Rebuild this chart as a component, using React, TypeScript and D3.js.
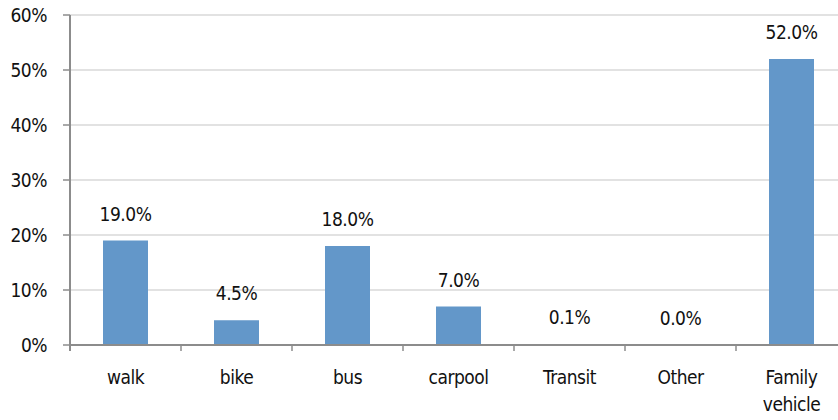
import React from "react";
import * as d3 from "d3";

const categories = ["walk", "bike", "bus", "carpool", "Transit", "Other", "Family vehicle"];
const values = [19.0, 4.5, 18.0, 7.0, 0.1, 0.0, 52.0];
const yTicks = [0, 10, 20, 30, 40, 50, 60];

const W = 838;
const H = 420;
const FONT = "'DejaVu Sans Condensed', 'DejaVu Sans', sans-serif";
const textStyle: React.CSSProperties = { fontStretch: "condensed" };

export default function App() {
  const left = 70;
  const right = 847;
  const top = 15;
  const bottom = 345;
  const band = d3.scaleBand<string>().domain(categories).range([left, right]);
  const y = d3.scaleLinear().domain([0, 60]).range([bottom, top]);
  const bw = 45;
  const fs = 19;

  return (
    <svg width={W} height={H} style={{ position: "absolute", left: 0, top: 0, background: "#fff" }}>
      {yTicks.map((t) => (
        <g key={t}>
          {t > 0 && <line x1={left} x2={right} y1={y(t)} y2={y(t)} stroke="#d9d9d9" strokeWidth={1.5} />}
          <line x1={left - 7} x2={left} y1={y(t)} y2={y(t)} stroke="#8c8c8c" strokeWidth={1.5} />
          <text x={47} y={y(t) + 7} textAnchor="end" fontFamily={FONT} fontSize={fs} fill="#111" style={textStyle} letterSpacing={-0.5}>
            {t}%
          </text>
        </g>
      ))}
      {categories.map((c, i) => {
        const cx = (band(c) as number) + band.bandwidth() / 2;
        const v = values[i];
        return (
          <g key={c}>
            {v > 0 && (
              <rect x={cx - bw / 2} y={y(v)} width={bw} height={bottom - y(v)} fill="#6397c9" />
            )}
            <text x={cx} y={y(v) - 20} textAnchor="middle" fontFamily={FONT} fontSize={fs} fill="#111" style={textStyle} letterSpacing={-0.5}>
              {v.toFixed(1)}%
            </text>
            {c.split(" ").map((w, j) => (
              <text key={j} x={cx} y={384 + j * 27} textAnchor="middle" fontFamily={FONT} fontSize={fs} fill="#111" style={textStyle} letterSpacing={-0.5}>
                {w}
              </text>
            ))}
          </g>
        );
      })}
      {categories.map((c, i) => (
        <line key={"t" + i} x1={band(c) as number} x2={band(c) as number} y1={bottom} y2={bottom + 6} stroke="#8c8c8c" strokeWidth={1.5} />
      ))}
      <line x1={left} x2={right} y1={bottom} y2={bottom} stroke="#8c8c8c" strokeWidth={2} />
      <line x1={left} x2={left} y1={top} y2={bottom + 6} stroke="#8c8c8c" strokeWidth={2} />
    </svg>
  );
}
